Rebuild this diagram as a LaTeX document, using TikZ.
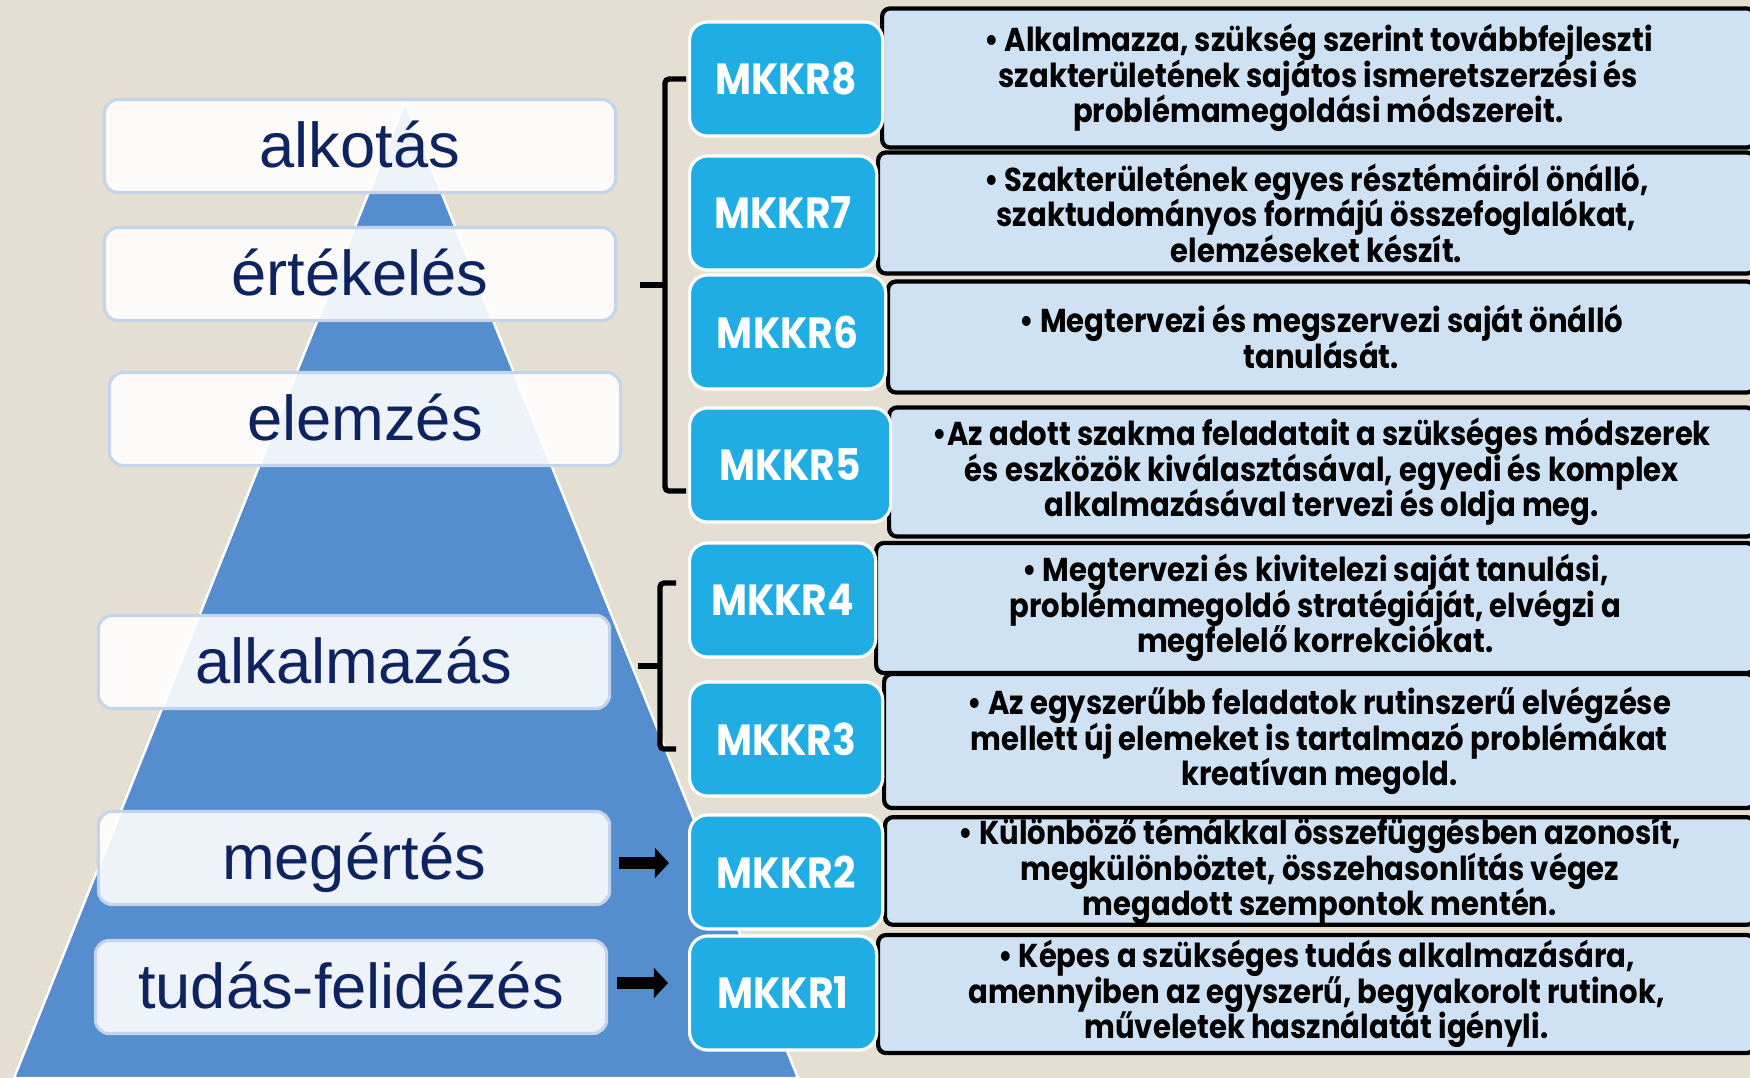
\documentclass[tikz,border=0pt]{standalone}
\usepackage{fontspec}
\setmainfont{Liberation Sans}
\newfontfamily\mkkrfont[FakeStretch=0.9]{Poppins}
\newfontfamily\descfont[FakeStretch=0.88]{Poppins}
\newcommand\desctext{\descfont\bfseries\fontsize{9.4}{10.1}\selectfont\lineskiplimit=-20pt\relax}
\usetikzlibrary{calc,positioning,arrows.meta}

\definecolor{bgbeige}{RGB}{228,222,211}
\definecolor{pyrblue}{RGB}{84,142,207}
\definecolor{mkkrcyan}{RGB}{31,173,228}
\definecolor{descblue}{RGB}{207,226,243}
\definecolor{lvlnavy}{RGB}{14,36,96}
\definecolor{lvlborder}{RGB}{196,213,235}

\begin{document}
\begin{tikzpicture}[x=0.01cm,y=-0.01cm,
		level/.style={draw=lvlborder, line width=0.9pt, fill=white, fill opacity=0.9, text opacity=1,
			rounded corners=0.14cm, minimum width=5.11cm, minimum height=0.93cm, inner sep=0pt,
			text height=15pt, text depth=3pt, text=lvlnavy, font=\fontsize{18}{18}\selectfont},
		mkkr/.style={draw=white, line width=0.9pt, fill=mkkrcyan, rounded corners=0.18cm, anchor=west,
			minimum height=1.14cm, inner sep=0pt, text=white, font=\mkkrfont\bfseries\fontsize{12.4}{12}\selectfont},
		desc/.style={draw=black, line width=1.2pt, fill=descblue, rounded corners=0.08cm, anchor=west,
			align=center, inner sep=0pt, font=\desctext},
		bracket/.style={line width=1.5pt, rounded corners=0.04cm},
		blockarrow/.style={line width=3.4pt, -{Triangle[length=4pt,width=8.4pt]}}]
		\useasboundingbox (0,0) rectangle (1750,1078);
		\fill[bgbeige] (0,0) rectangle (1750,1078);
		% pyramid
		\filldraw[fill=pyrblue, draw=white, line width=0.7pt] (405,102) -- (14,1078) -- (798,1078) -- cycle;
		
		\node[level] (alk)  at (360,146) {alkotás};
		\node[level] (ert)  at (360,274) {értékelés};
		\node[level] (elem) at (365,419) {elemzés};
		\node[level] (alkm) at (354,662) {alkalmazás};
		\node[level] (meg)  at (354,858) {megértés};
		\node[level] (tud)  at (351,987) {tudás-felidézés};
		
		% descriptions
		\node[desc, minimum width=8.72cm, minimum height=1.39cm] (d8) at (880,78) {• Alkalmazza, szükség szerint továbbfejleszti\\ szakterületének sajátos ismeretszerzési és\\ problémamegoldási módszereit.};
		\node[desc, minimum width=8.76cm, minimum height=1.21cm] (d7) at (876,213) {• Szakterületének egyes résztémáiról önálló,\\ szaktudományos formájú összefoglalókat,\\ elemzéseket készít.};
		\node[desc, minimum width=8.66cm, minimum height=1.11cm] (d6) at (886,337) {• Megtervezi és megszervezi saját önálló\\ tanulását.};
		\node[desc, minimum width=8.65cm, minimum height=1.29cm] (d5) at (887,472) {•Az adott szakma feladatait a szükséges módszerek\\ és eszközök kiválasztásával, egyedi és komplex\\ alkalmazásával tervezi és oldja meg.};
		\node[desc, minimum width=8.78cm, minimum height=1.30cm] (d4) at (874,608) {• Megtervezi és kivitelezi saját tanulási,\\ problémamegoldó stratégiáját, elvégzi a\\ megfelelő korrekciókat.};
		\node[desc, minimum width=8.70cm, minimum height=1.34cm] (d3) at (882,741) {• Az egyszerűbb feladatok rutinszerű elvégzése\\ mellett új elemeket is tartalmazó problémákat\\ kreatívan megold.};
		\node[desc, minimum width=8.69cm, minimum height=1.02cm] (d2) at (883,871) {• Különböző témákkal összefüggésben azonosít,\\ megkülönböztet, összehasonlítás végez\\ megadott szempontok mentén.};
		\node[desc, minimum width=8.76cm, minimum height=1.18cm] (d1) at (876,994) {• Képes a szükséges tudás alkalmazására,\\ amennyiben az egyszerű, begyakorolt rutinok,\\ műveletek használatát igényli.};
		
		\foreach \n/\y/\w in {8/79/1.93, 7/213/1.87, 6/332/1.96, 5/465/2.01, 4/600/1.86, 3/739/1.93, 2/872/1.93, 1/993/1.87} {
			\node[mkkr, minimum width=\w cm] (m\n) at (688,\y) {MKKR\n};
		};
		
		% brackets
		\coordinate (b1top) at (686,79);
		\coordinate (b1bot) at (686,491);
		\coordinate (b1tip) at (640,285);
		\draw[bracket] (b1top) -- ++(-21,0) |- (b1bot);
		\draw[bracket] (b1tip) -- ++(25,0);
		\coordinate (b2top) at (676,583);
		\coordinate (b2bot) at (676,749);
		\coordinate (b2tip) at (638,666);
		\draw[bracket] (b2top) -- ++(-16,0) |- (b2bot);
		\draw[bracket] (b2tip) -- ++(22,0);
		
		\draw[blockarrow, shorten <=0.08cm, shorten >=0.19cm] ([yshift=-0.05cm]meg.east) -- ([yshift=-0.05cm]meg.east -| m2.west);
		\draw[blockarrow, shorten <=0.09cm, shorten >=0.20cm] ([yshift=0.04cm]tud.east) -- ([yshift=0.04cm]tud.east -| m1.west);
	\end{tikzpicture}
\end{document}
